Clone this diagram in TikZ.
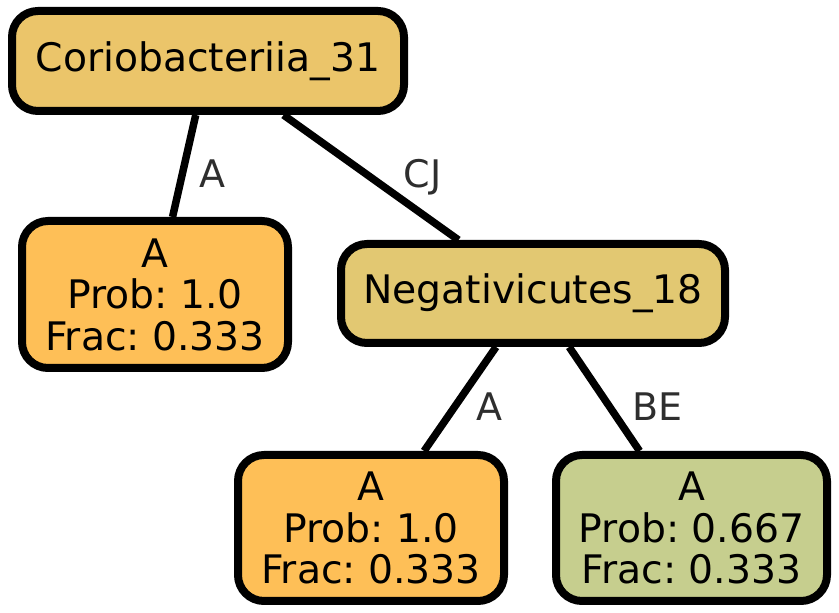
\documentclass[tikz,border=0pt]{standalone}
\usepackage{fontspec}
\setmainfont{DejaVu Sans}
\definecolor{cA}{HTML}{EBC56A}
\definecolor{cB}{HTML}{FEBF57}
\definecolor{cC}{HTML}{E2C872}
\definecolor{cD}{HTML}{C6CE8E}
\definecolor{lab}{HTML}{2E2E2E}
\begin{document}
\frenchspacing
\begin{tikzpicture}[x=1pt,y=1pt,
  tnode/.style={draw=black,line width=8pt,rounded corners=26pt,inner sep=0pt,
    align=center,font=\fontsize{39.3}{41.5}\selectfont},
  edge/.style={line width=7.5pt,draw=black},
  elabel/.style={anchor=base,inner sep=0pt,text=lab,font=\fontsize{38}{40}\selectfont}]
\useasboundingbox (0,0) rectangle (839,613);
\node[tnode,fill=cA,minimum width=392pt,minimum height=100pt] (n1) at (208,552) {Coriobacteriia\_31};
\node[tnode,fill=cB,minimum width=266pt,minimum height=147pt] (n2) at (155,318.5) {A\\Prob: 1.0\\Frac: 0.333};
\node[tnode,fill=cC,minimum width=384pt,minimum height=99pt] (n3) at (533,319.5) {Negativicutes\_18};
\node[tnode,fill=cB,minimum width=266pt,minimum height=146pt] (n4) at (371,85) {A\\Prob: 1.0\\Frac: 0.333};
\node[tnode,fill=cD,minimum width=271pt,minimum height=146pt] (n5) at (691.5,85) {A\\Prob: 0.667\\Frac: 0.333};
\draw[edge] (n1) -- (n2);
\draw[edge] (n1) -- (n3);
\draw[edge] (n3) -- (n4);
\draw[edge] (n3) -- (n5);
\node[elabel] (l1) at (212,425) {A};
\node[elabel] (l2) at (422.5,425) {CJ};
\node[elabel] (l3) at (489.5,192) {A};
\node[elabel] (l4) at (657.5,192) {BE};
\end{tikzpicture}
\end{document}
